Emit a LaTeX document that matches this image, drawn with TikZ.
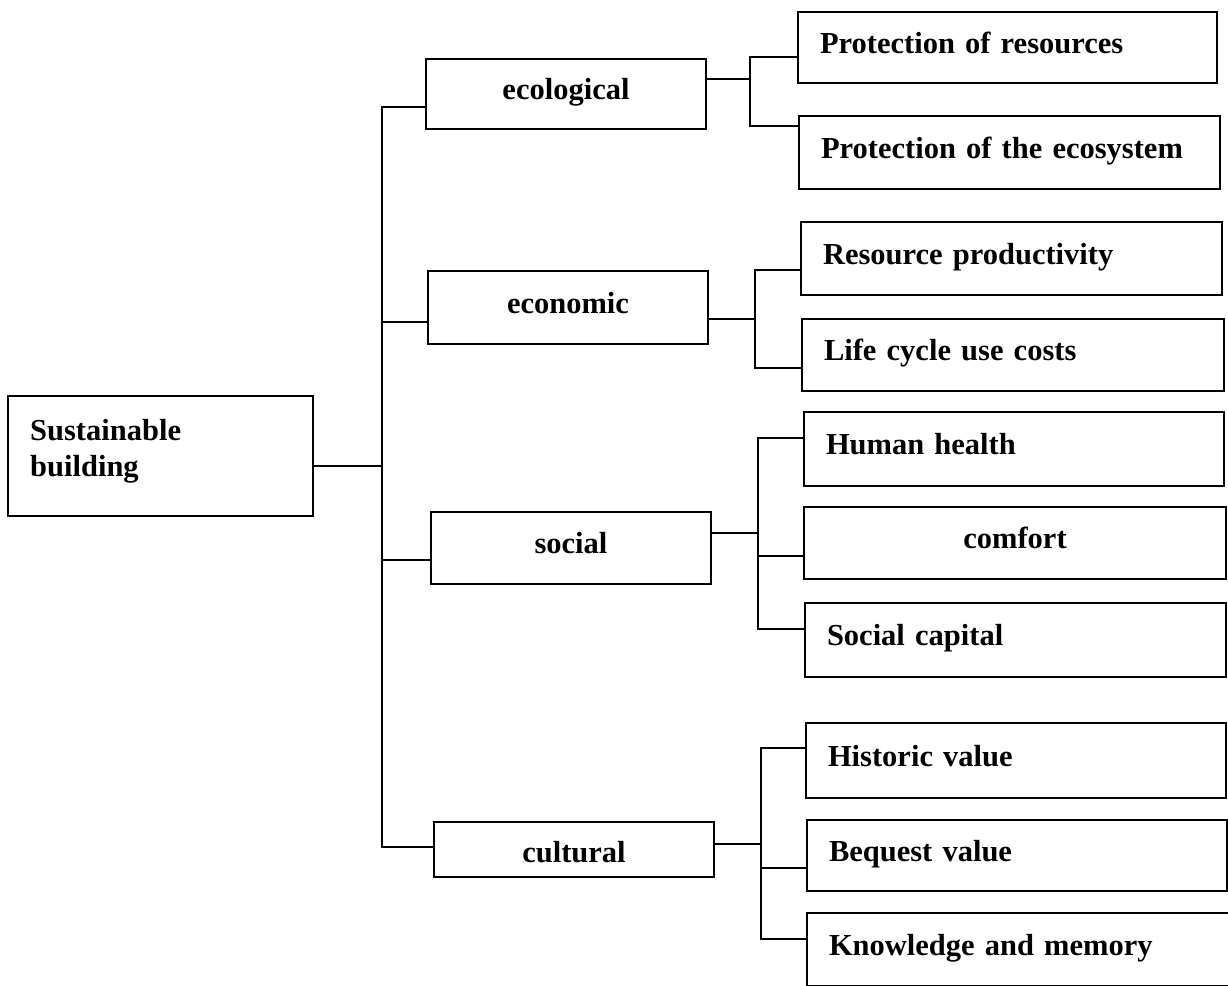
\documentclass[tikz,border=0pt]{standalone}
\usepackage{fontspec}
\setmainfont{Liberation Serif}[WordSpace=0.8]
\begin{document}
\begin{tikzpicture}[x=1pt,y=-1pt,
  conn/.style={line width=1.5pt, line cap=rect},
  basebox/.style={draw, line width=1.6pt, rectangle, inner ysep=0pt,
    font=\bfseries\fontsize{30.5}{36}\selectfont, text height=18pt, text depth=7pt},
  midbox/.style={basebox, inner xsep=0pt, align=center},
  leafbox/.style={basebox, inner xsep=22pt, align=left},
  roottext/.style={inner sep=0pt, align=left, font=\bfseries\fontsize{30.5}{36}\selectfont}]
\clip (0,0) rectangle (1228,985);
\fill[white] (0,0) rectangle (1228,985);

% root
\node[basebox, minimum width=305pt, minimum height=120pt] (root) at (160.5,456) {};
\node[roottext, anchor=base west] (rootlab) at (30,476) {Sustainable\\building};

% level 2
\node[midbox, minimum width=280pt, minimum height=70pt] (eco) at (566,94) {ecological};
\node[midbox, minimum width=280pt, minimum height=73pt] (econ) at (568,307.5) {economic};
\node[midbox, minimum width=280pt, minimum height=72pt] (soc) at (571,548) {social};
\node[midbox, minimum width=280pt, minimum height=55pt, text height=26pt, text depth=1pt] (cult) at (574,849.5) {cultural};

% leaves
\node[leafbox, minimum width=419pt, minimum height=71pt, text width=375pt] (l1) at (1007.5,47.5) {Protection of resources};
\node[leafbox, minimum width=421pt, minimum height=73pt, text width=377pt] (l2) at (1009.5,152.5) {Protection of the ecosystem};
\node[leafbox, minimum width=421pt, minimum height=73pt, text width=377pt] (l3) at (1011.5,258.5) {Resource productivity};
\node[leafbox, minimum width=422pt, minimum height=72pt, text width=378pt] (l4) at (1013,355) {Life cycle use costs};
\node[leafbox, minimum width=420pt, minimum height=74pt, text width=376pt] (l5) at (1014,449) {Human health};
\node[basebox, inner xsep=0pt, minimum width=422pt, minimum height=72pt, text width=422pt, align=center] (l6) at (1015,543) {comfort};
\node[leafbox, minimum width=421pt, minimum height=74pt, text width=377pt] (l7) at (1015.5,640) {Social capital};
\node[leafbox, minimum width=420pt, minimum height=75pt, text width=376pt] (l8) at (1016,760.5) {Historic value};
\node[leafbox, minimum width=420pt, minimum height=71pt, text width=376pt] (l9) at (1017,855.5) {Bequest value};
\node[leafbox, minimum width=425pt, minimum height=73pt, text width=381pt] (l10) at (1019.5,949.5) {Knowledge and memory};

% trunk
\coordinate (j0) at (382,466);
\coordinate (j1) at (382,107);
\coordinate (j2) at (382,322);
\coordinate (j3) at (382,560);
\coordinate (j4) at (382,847);
\draw[conn] (root.east |- j0) -- (j0);
\draw[conn] (j1) -- (j4);
\draw[conn] (j1) -- (eco.west |- j1);
\draw[conn] (j2) -- (econ.west |- j2);
\draw[conn] (j3) -- (soc.west |- j3);
\draw[conn] (j4) -- (cult.west |- j4);

% ecological branch
\coordinate (b1) at (750,79);
\coordinate (b1t) at (750,57);
\coordinate (b1b) at (750,126);
\draw[conn] (eco.east |- b1) -- (b1);
\draw[conn] (b1t) -- (b1b);
\draw[conn] (b1t) -- (l1.west |- b1t);
\draw[conn] (b1b) -- (l2.west |- b1b);

% economic branch
\coordinate (b2) at (755,319);
\coordinate (b2t) at (755,270);
\coordinate (b2b) at (755,368);
\draw[conn] (econ.east |- b2) -- (b2);
\draw[conn] (b2t) -- (b2b);
\draw[conn] (b2t) -- (l3.west |- b2t);
\draw[conn] (b2b) -- (l4.west |- b2b);

% social branch
\coordinate (b3) at (758,533);
\coordinate (b3t) at (758,438);
\coordinate (b3m) at (758,556);
\coordinate (b3b) at (758,629);
\draw[conn] (soc.east |- b3) -- (b3);
\draw[conn] (b3t) -- (b3b);
\draw[conn] (b3t) -- (l5.west |- b3t);
\draw[conn] (b3m) -- (l6.west |- b3m);
\draw[conn] (b3b) -- (l7.west |- b3b);

% cultural branch
\coordinate (b4) at (761,844);
\coordinate (b4t) at (761,748);
\coordinate (b4m) at (761,868);
\coordinate (b4b) at (761,939);
\draw[conn] (cult.east |- b4) -- (b4);
\draw[conn] (b4t) -- (b4b);
\draw[conn] (b4t) -- (l8.west |- b4t);
\draw[conn] (b4m) -- (l9.west |- b4m);
\draw[conn] (b4b) -- (l10.west |- b4b);
\end{tikzpicture}
\end{document}
